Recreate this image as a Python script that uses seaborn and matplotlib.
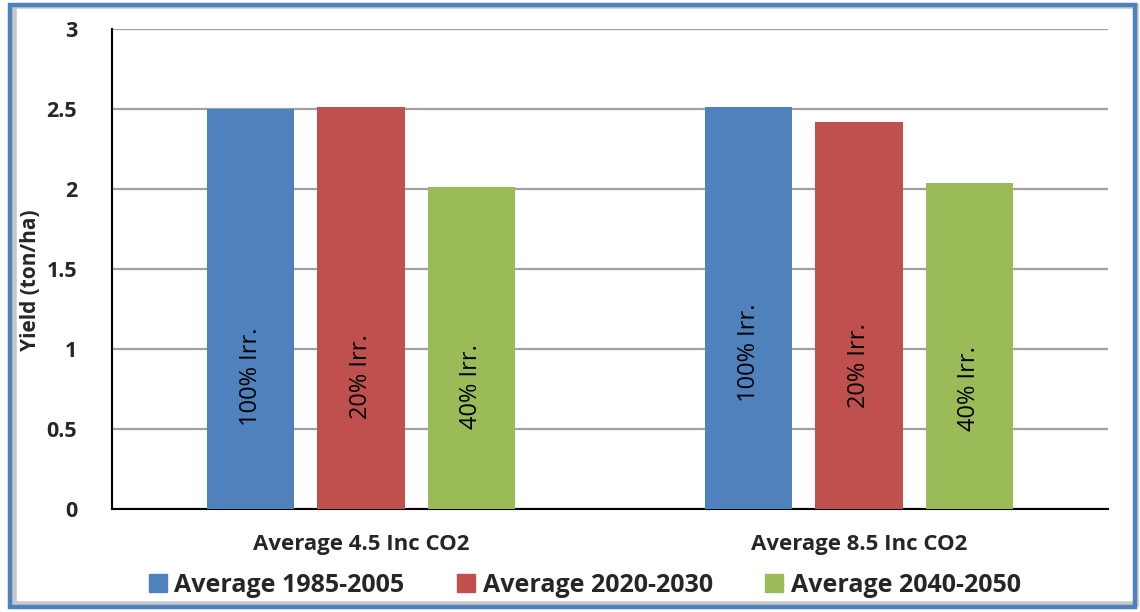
import matplotlib
matplotlib.use("Agg")
import matplotlib.pyplot as plt
from matplotlib.patches import Rectangle
import seaborn as sns
import pandas as pd

categories = ["Average 4.5 Inc CO2", "Average 8.5 Inc CO2"]
series = ["Average 1985-2005", "Average 2020-2030", "Average 2040-2050"]
vals_1985_2005 = [2.50, 2.51]
vals_2020_2030 = [2.51, 2.42]
vals_2040_2050 = [2.01, 2.04]
bar_labels = ["100% Irr.", "20% Irr.", "40% Irr."]
colors = ["#4F81BD", "#C0504D", "#9BBB59"]
yticks = [0, 0.5, 1, 1.5, 2, 2.5, 3]
ytick_labels = ["0", "0.5", "1", "1.5", "2", "2.5", "3"]

rows = []
for s, vals in zip(series, [vals_1985_2005, vals_2020_2030, vals_2040_2050]):
    for c, v in zip(categories, vals):
        rows.append({"cat": c, "series": s, "value": v})
df = pd.DataFrame(rows)

sns.set_theme(style="white")
FAM = ["Open Sans", "DejaVu Sans"]
plt.rcParams["font.family"] = FAM

fig = plt.figure(figsize=(11.4, 6.12), dpi=100)
ax = fig.add_axes([112/1140, 1-509/612, (1108-112)/1140, 480/612])

sns.barplot(data=df, x="cat", y="value", hue="series", palette=colors,
            order=categories, hue_order=series, width=0.665, gap=0.21,
            ax=ax, legend=False, saturation=1, edgecolor="none", zorder=3)

ax.set_ylim(0, 3)
ax.set_yticks(yticks)
ax.set_yticklabels(ytick_labels)
for lbl in ax.get_yticklabels():
    lbl.set_fontsize(15.5)
    lbl.set_fontweight("bold")
    lbl.set_family(FAM)
ax.yaxis.grid(True, color="#A0A0A0", linewidth=1.6, zorder=0)
ax.set_axisbelow(True)
for sp in ["top", "right"]:
    ax.spines[sp].set_visible(False)
for sp in ["left", "bottom"]:
    ax.spines[sp].set_color("black")
    ax.spines[sp].set_linewidth(1.5)
ax.tick_params(axis="y", length=0, pad=25)
ax.tick_params(axis="x", length=0, pad=18)
ax.set_xticks(range(len(categories)))
ax.set_xticklabels(categories)
for lbl in ax.get_xticklabels():
    lbl.set_fontsize(16)
    lbl.set_fontweight("bold")
    lbl.set_family(FAM)
ax.set_xlabel("")
ax.set_ylabel("")
fig.text(31/1140, 1-280/612, "Yield (ton/ha)", rotation=90, ha="center", va="center",
         fontsize=15, fontweight="bold", family=FAM)

# in-bar labels
label_frac = [[0.33, 0.39], [0.33, 0.37], [0.38, 0.37]]
for i, cont in enumerate(ax.containers):
    for j, bar in enumerate(cont):
        x = bar.get_x() + bar.get_width() / 2
        h = bar.get_height()
        ax.text(x, h * label_frac[i][j], bar_labels[i], rotation=90,
                ha="center", va="center", fontsize=17, color="black",
                family=FAM, zorder=4)

handles = [Rectangle((0, 0), 1, 1, color=c) for c in colors]
fig.legend(handles, series, loc="center", bbox_to_anchor=(0.513, 1-585/612),
           ncol=3, frameon=False, handlelength=0.72, handleheight=0.72,
           handletextpad=0.3, columnspacing=2.1,
           prop={"family": FAM, "weight": "bold", "size": 18})

# outer frame with shadow
fig.patches.append(Rectangle((14/1140, 8/612), 1122/1140, 598/612,
                             transform=fig.transFigure, fill=False,
                             edgecolor="#C8C8C8", linewidth=4, zorder=0))
fig.patches.append(Rectangle((10/1140, 5/612), 1125/1140, 602/612,
                             transform=fig.transFigure, fill=False,
                             edgecolor="#4F81BD", linewidth=3.2, zorder=1))

fig.savefig("out.png", dpi=100)
